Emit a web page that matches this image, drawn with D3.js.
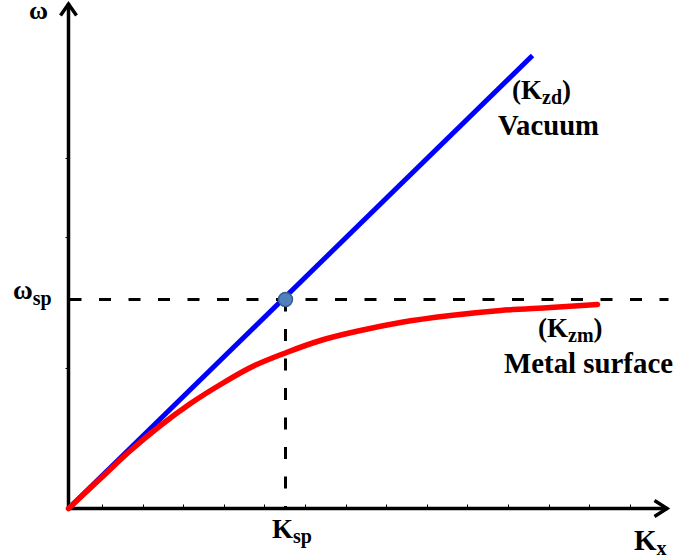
<!DOCTYPE html>
<html><head><meta charset="utf-8">
<script src="https://cdn.jsdelivr.net/npm/d3@7"></script>
<style>body{margin:0;background:#fff}svg{display:block}</style>
</head><body>
<script>
// Data (abstract units: Kx along x, omega along y)
const vacuumLine = [[0, 0], [4.64, 4.53]];
const metalCurve = [[0,0],[0.32,0.30],[0.62,0.58],[0.92,0.83],[1.22,1.05],[1.52,1.24],[1.82,1.41],[2.18,1.56],[2.52,1.68],[2.92,1.78],[3.32,1.86],[3.82,1.93],[4.32,1.98],[4.82,2.01],[5.29,2.04]];
const kSp = 2.17;
const omegaSp = 2.09;
const xMinorTicks = [0.34,0.75,1.15,1.56,1.96,2.37,2.78,3.18,3.59,3.99,4.40,4.81,5.21,5.62];
const yMinorTicks = [1.40,2.71,3.50];
const xMax = 6.0, yMax = 5.06;

const W = 675, H = 560;
const svg = d3.select("body").append("svg").attr("width", W).attr("height", H);
const x = d3.scaleLinear().domain([0, xMax]).range([68.5, 668.5]);
const y = d3.scaleLinear().domain([0, yMax]).range([508.5, 2.5]);

// minor ticks
svg.append("g").selectAll("line").data(xMinorTicks).join("line")
  .attr("x1", d => x(d)).attr("x2", d => x(d)).attr("y1", y(0)).attr("y2", y(0) - 4)
  .attr("stroke", "#000").attr("stroke-width", 1);
svg.append("g").selectAll("line").data(yMinorTicks).join("line")
  .attr("y1", d => y(d)).attr("y2", d => y(d)).attr("x1", x(0)).attr("x2", x(0) - 3)
  .attr("stroke", "#000").attr("stroke-width", 1);

// dashed guides
svg.append("line").attr("x1", x(0) + 1).attr("x2", x(xMax)).attr("y1", y(omegaSp)).attr("y2", y(omegaSp))
  .attr("stroke", "#000").attr("stroke-width", 3).attr("stroke-dasharray", "12,17.5");
svg.append("line").attr("x1", x(kSp)).attr("x2", x(kSp)).attr("y1", y(omegaSp)).attr("y2", y(0))
  .attr("stroke", "#000").attr("stroke-width", 3).attr("stroke-dasharray", "12,17.5");

// axes
svg.append("line").attr("x1", x(0)).attr("x2", x(0)).attr("y1", y(0) + 1.5).attr("y2", y(yMax) + 1)
  .attr("stroke", "#000").attr("stroke-width", 3.5);
svg.append("line").attr("x1", x(0) - 1.5).attr("x2", x(xMax) - 1).attr("y1", y(0)).attr("y2", y(0))
  .attr("stroke", "#000").attr("stroke-width", 3.5);
// arrowheads
svg.append("path").attr("d", `M${x(0)-8},${y(yMax)+13} L${x(0)},${y(yMax)+1.5} L${x(0)+8},${y(yMax)+13}`)
  .attr("fill", "none").attr("stroke", "#000").attr("stroke-width", 3.5);
svg.append("path").attr("d", `M${x(xMax)-14},${y(0)-8} L${x(xMax)-1.5},${y(0)} L${x(xMax)-14},${y(0)+8}`)
  .attr("fill", "none").attr("stroke", "#000").attr("stroke-width", 3.5);

const line = d3.line().x(d => x(d[0])).y(d => y(d[1]));
svg.append("path").attr("d", line(vacuumLine)).attr("fill", "none").attr("stroke", "#0000ff").attr("stroke-width", 5);
svg.append("path").attr("d", line.curve(d3.curveMonotoneX)(metalCurve)).attr("fill", "none")
  .attr("stroke", "#ff0000").attr("stroke-width", 5.5).attr("stroke-linecap", "round");

svg.append("circle").attr("cx", x(kSp)).attr("cy", y(omegaSp)).attr("r", 7)
  .attr("fill", "#4f81bd").attr("stroke", "#385d8a").attr("stroke-width", 1.5);

// labels
const FONT = "'Liberation Serif'";
function label(px, py, parts, size, tl) {
  const t = svg.append("text").attr("x", px).attr("y", py)
    .style("font-family", FONT).style("font-weight", "bold").style("font-size", size + "px").style("fill", "#000");
  if (tl) t.attr("textLength", tl).attr("lengthAdjust", "spacingAndGlyphs");
  parts.forEach(m => {
    t.append("tspan").text(m[0]).style("font-size", (m[1] || size) + "px").attr("dy", m[2] || 0);
  });
  return t;
}
label(29, 19, [["ω"]], 26);
label(13, 299, [["ω"], ["sp", 20, 6]], 27);
label(272, 538, [["K"], ["sp", 20, 5]], 27);
label(634, 550, [["K"], ["x", 20, 5]], 29);
label(512, 99, [["("], ["K"], ["zd", 20, 5], [")", 27, -5]], 27);
label(498, 135, [["Vacuum"]], 29, 101);
label(538, 337, [["("], ["K"], ["zm", 20, 5], [")", 27, -5]], 27);
label(504, 373, [["Metal surface"]], 29, 169);
</script>
</body></html>
